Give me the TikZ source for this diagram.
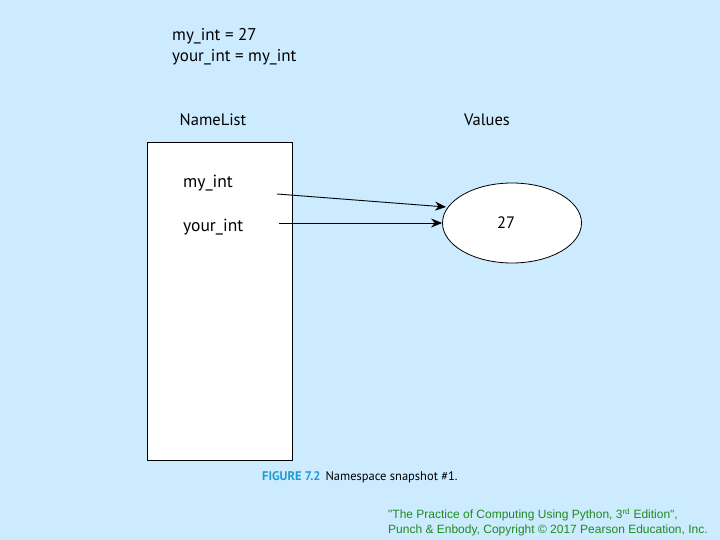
\documentclass[tikz,border=0pt]{standalone}
\usepackage{fontspec}
\setmainfont{PT Sans}
\newfontfamily\copyfont{Liberation Sans}
\usetikzlibrary{arrows.meta,shapes.geometric}
\definecolor{slidebg}{HTML}{CCEBFF}
\definecolor{figblue}{HTML}{1E9BD7}
\definecolor{copygreen}{HTML}{1E8C1E}
\tikzstyle{heading}=[font=\fontsize{16.5}{20}\selectfont, inner sep=0pt]
\tikzstyle{varname}=[font=\fontsize{17}{20}\selectfont, inner sep=0pt, anchor=west]
\tikzstyle{ptr}=[line width=0.9pt, -{Stealth[length=11pt,width=9pt]}]

\begin{document}
\begin{tikzpicture}[x=1pt,y=-1pt]
				\fill[slidebg] (0,0) rectangle (720,540);
				\node[varname] (code1) at (172,36) {my\_int = 27};
				\node[varname] (code2) at (172,57) {your\_int = my\_int};
				\node[heading] (namelist) at (213,120) {NameList};
				\node[heading] (values) at (487,120) {Values};
				\draw[thick, fill=white] (147,142) rectangle (292,460);
				\node[varname, font=\fontsize{17.5}{20}\selectfont] (myint) at (183,183) {my\_int};
				\node[varname, font=\fontsize{17.5}{20}\selectfont] (yourint) at (183,227) {your\_int};
				\node[ellipse, draw, thick, fill=white, minimum width=139pt, minimum height=80pt, inner sep=0pt] (val) at (512,223) {};
				\node[heading] (num) at (506,223) {27};
				\coordinate (mytail) at (277,194);
				\coordinate (yourtail) at (279,223);
				\draw[ptr] (mytail) -- (446,207);
				\draw[ptr] (yourtail) -- (val.west);
				\node[anchor=west, inner sep=0pt, font=\fontsize{12.5}{15}\selectfont] (caption) at (262,477) {{\color{figblue}\bfseries FIGURE 7.2}\hspace{5pt}Namespace snapshot \#1.};
				\node[anchor=north west, inner sep=0pt, align=left, text=copygreen, font=\copyfont\fontsize{12}{15}\selectfont] (copy) at (388,508) {"The Practice of Computing Using Python, 3\textsuperscript{rd} Edition",\\Punch \& Enbody, Copyright \textcopyright{} 2017 Pearson Education, Inc.};
			\end{tikzpicture}
\end{document}
